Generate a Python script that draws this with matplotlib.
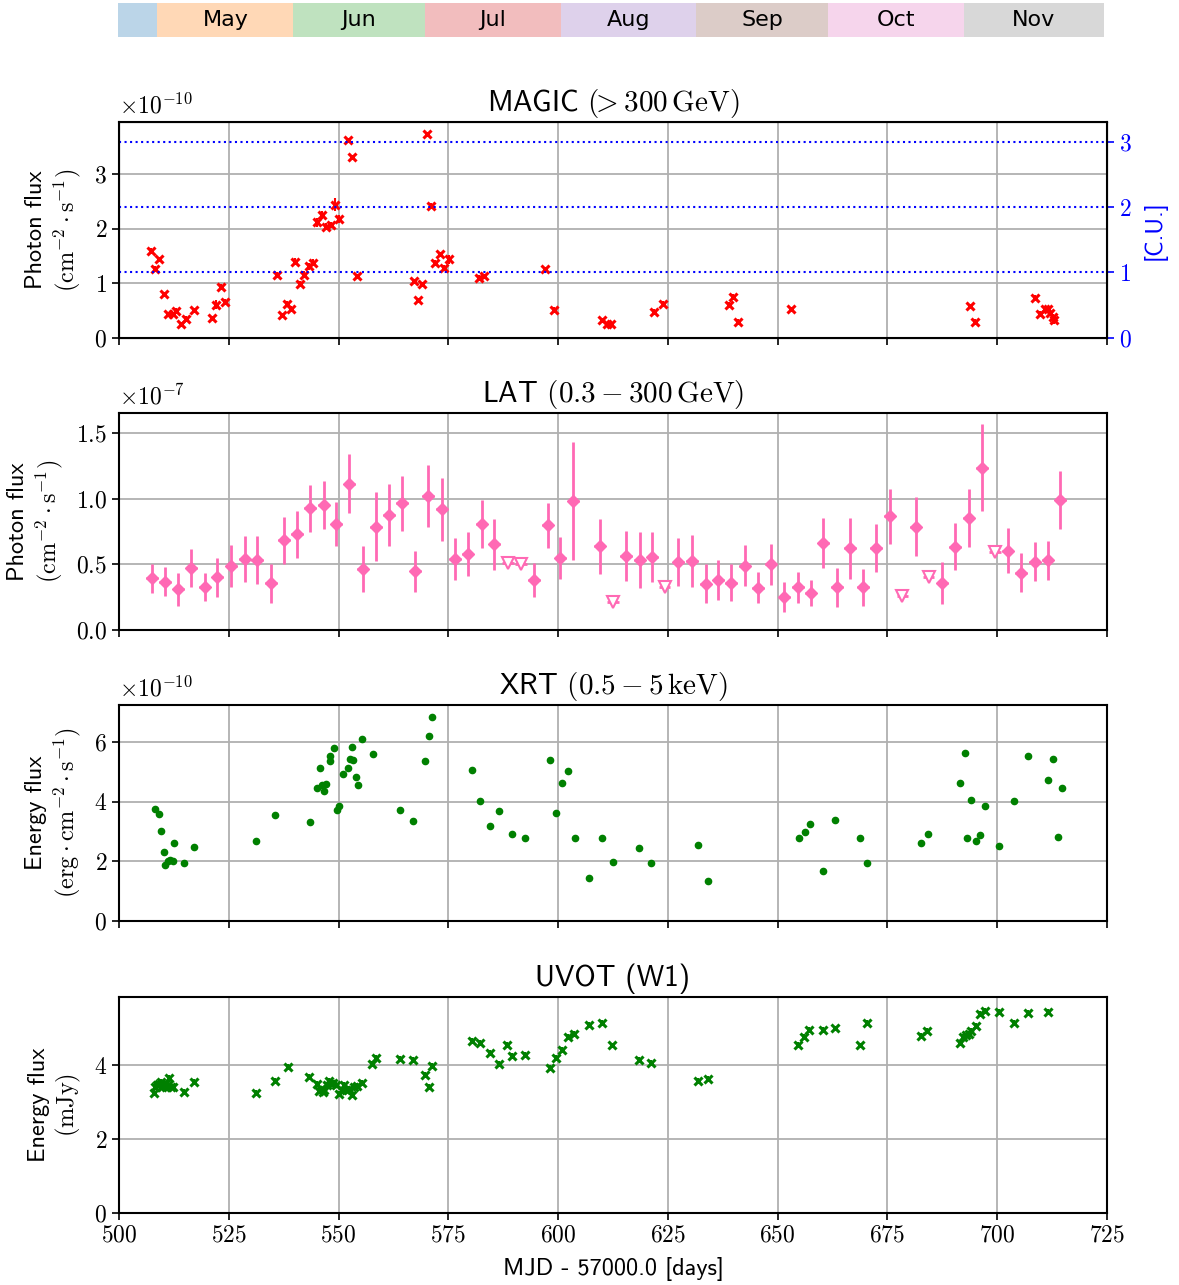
#!/usr/bin/env python3
# -*- coding: utf-8 -*-
"""
Multi-wavelength light curve: MAGIC, LAT, XRT, UVOT
"""

import numpy as np
import matplotlib
matplotlib.use('Agg')
import matplotlib.pyplot as plt
from matplotlib.ticker import FuncFormatter, MultipleLocator

plt.rcParams['font.family'] = ['cmss10', 'DejaVu Sans']
plt.rcParams['mathtext.fontset'] = 'cm'
plt.rcParams['axes.unicode_minus'] = False

# month bar
month_names = ['', 'May', 'Jun', 'Jul', 'Aug', 'Sep', 'Oct', 'Nov']
month_start = [500, 509, 540, 570, 601, 632, 662, 693]
month_end = [509, 540, 570, 601, 632, 662, 693, 725]
month_colors = ['tab:blue', 'tab:orange', 'tab:green', 'tab:red',
                'tab:purple', 'tab:brown', 'tab:pink', 'tab:gray']

# MAGIC (> 300 GeV), units of 1e-10 cm-2 s-1
magic_mjd = [507.2, 508.2, 509.2, 510.2, 511.2, 512.2, 513.1, 514.2, 515.2, 517.2,
             521.2, 522.2, 523.2, 524.2, 536.1, 537.2, 538.2, 539.2, 540.2, 541.2,
             542.2, 543.2, 544.2, 545.1, 546.2, 547.2, 548.2, 549.2, 550.1, 552.2,
             553.1, 554.1, 567.1, 568.1, 569.1, 570.1, 571.1, 572.0, 573.0, 574.0,
             575.1, 582.1, 583.1, 597.1, 599.1, 610.1, 611.1, 612.1, 621.9, 623.9,
             638.9, 639.9, 641.0, 653.0, 693.9, 694.9, 708.7, 709.7, 710.8, 711.5,
             712.1, 712.7, 712.9]
magic_flux = [1.59, 1.26, 1.44, 0.81, 0.44, 0.43, 0.50, 0.25, 0.35, 0.51,
              0.37, 0.61, 0.93, 0.66, 1.15, 0.42, 0.62, 0.53, 1.40, 0.99,
              1.16, 1.31, 1.38, 2.12, 2.25, 2.04, 2.07, 2.44, 2.18, 3.63,
              3.31, 1.14, 1.04, 0.69, 0.98, 3.73, 2.42, 1.37, 1.53, 1.29,
              1.44, 1.10, 1.13, 1.26, 0.52, 0.33, 0.25, 0.25, 0.48, 0.63,
              0.61, 0.75, 0.29, 0.53, 0.58, 0.30, 0.73, 0.44, 0.53, 0.53,
              0.45, 0.39, 0.32]
magic_err = [0.05, 0.05, 0.05, 0.04, 0.04, 0.04, 0.05, 0.05, 0.05, 0.04,
             0.04, 0.08, 0.05, 0.05, 0.05, 0.04, 0.05, 0.06, 0.06, 0.05,
             0.06, 0.06, 0.06, 0.08, 0.07, 0.06, 0.06, 0.12, 0.07, 0.04,
             0.05, 0.04, 0.04, 0.04, 0.04, 0.03, 0.05, 0.05, 0.05, 0.05,
             0.08, 0.05, 0.05, 0.04, 0.05, 0.04, 0.04, 0.04, 0.05, 0.04,
             0.05, 0.06, 0.05, 0.03, 0.03, 0.04, 0.05, 0.05, 0.04, 0.05,
             0.05, 0.05, 0.07]
CRAB_UNIT = 1.2  # 1 C.U. in units of 1e-10

# LAT (0.3 - 300 GeV), units of 1e-7 cm-2 s-1
lat_mjd = [507.5, 510.5, 513.5, 516.5, 519.5, 522.4, 525.6, 528.6, 531.4, 534.6,
           537.6, 540.5, 543.5, 546.6, 549.5, 552.5, 555.5, 558.5, 561.5, 564.5,
           567.5, 570.4, 573.5, 576.5, 579.4, 582.6, 585.5, 594.5, 597.6, 600.5,
           603.5, 609.5, 615.5, 618.6, 621.5, 627.4, 630.5, 633.6, 636.5, 639.4,
           642.5, 645.5, 648.4, 651.5, 654.6, 657.5, 660.4, 663.5, 666.5, 669.4,
           672.4, 675.5, 681.4, 687.5, 690.4, 693.5, 696.5, 702.4, 705.4, 708.5,
           711.5, 714.4]
lat_flux = [0.394, 0.369, 0.310, 0.476, 0.328, 0.402, 0.491, 0.545, 0.534, 0.356,
            0.684, 0.730, 0.929, 0.954, 0.807, 1.117, 0.468, 0.789, 0.878, 0.967,
            0.448, 1.020, 0.921, 0.545, 0.580, 0.809, 0.654, 0.382, 0.799, 0.552,
            0.985, 0.639, 0.565, 0.534, 0.557, 0.519, 0.527, 0.354, 0.382, 0.361,
            0.491, 0.323, 0.501, 0.249, 0.326, 0.282, 0.664, 0.326, 0.623, 0.326,
            0.626, 0.868, 0.789, 0.359, 0.634, 0.852, 1.239, 0.606, 0.438, 0.522,
            0.532, 0.992]
lat_err = [0.11, 0.11, 0.125, 0.145, 0.11, 0.15, 0.16, 0.175, 0.18, 0.15,
           0.18, 0.18, 0.18, 0.185, 0.17, 0.225, 0.175, 0.26, 0.235, 0.21,
           0.155, 0.235, 0.24, 0.16, 0.165, 0.185, 0.195, 0.13, 0.17, 0.16,
           0.45, 0.21, 0.19, 0.21, 0.19, 0.18, 0.2, 0.15, 0.15, 0.14,
           0.155, 0.12, 0.155, 0.115, 0.12, 0.10, 0.19, 0.15, 0.235, 0.14,
           0.18, 0.21, 0.225, 0.16, 0.18, 0.22, 0.33, 0.17, 0.15, 0.15,
           0.15, 0.22]
lat_ul_mjd = [588.6, 591.6, 612.5, 624.3, 678.4, 684.4, 699.5]
lat_ul_flux = [0.514, 0.506, 0.213, 0.331, 0.257, 0.405, 0.595]
LAT_HALF_BIN = 1.3

# XRT (0.5 - 5 keV), units of 1e-10 erg cm-2 s-1
xrt_mjd = [508.3, 509.2, 509.5, 510.2, 510.4, 511.2, 511.7, 512.2, 512.5, 514.8,
           517.2, 531.1, 535.6, 543.4, 545.0, 545.7, 546.2, 546.6, 547.2, 548.0,
           548.1, 548.9, 549.7, 550.2, 551.0, 552.1, 552.7, 553.3, 553.1, 553.9,
           554.4, 555.4, 557.8, 564.1, 567.0, 569.7, 570.7, 571.3, 580.4, 582.3,
           584.4, 586.6, 589.6, 592.5, 598.2, 599.6, 601.0, 602.2, 603.8, 607.1,
           610.1, 612.4, 618.5, 621.2, 631.8, 634.1, 654.8, 656.2, 657.3, 660.3,
           663.0, 668.7, 670.4, 682.7, 684.2, 691.6, 692.6, 693.1, 694.1, 695.2,
           696.2, 697.2, 700.3, 703.9, 707.0, 711.6, 712.8, 713.8, 714.8]
xrt_flux = [3.77, 3.58, 3.02, 2.32, 1.87, 2.00, 2.03, 2.00, 2.61, 1.94,
            2.49, 2.69, 3.57, 3.31, 4.45, 5.13, 4.58, 4.37, 4.61, 5.36,
            5.54, 5.79, 3.74, 3.86, 4.94, 5.15, 5.44, 5.41, 5.85, 4.82,
            4.58, 6.11, 5.60, 3.71, 3.34, 5.36, 6.21, 6.85, 5.06, 4.03,
            3.18, 3.70, 2.91, 2.79, 5.41, 3.61, 4.64, 5.02, 2.79, 1.43,
            2.79, 1.97, 2.44, 1.94, 2.55, 1.34, 2.80, 2.99, 3.24, 1.67,
            3.40, 2.80, 1.95, 2.62, 2.92, 4.64, 5.63, 2.80, 4.06, 2.69,
            2.89, 3.86, 2.51, 4.04, 5.53, 4.73, 5.45, 2.83, 4.46]

# UVOT (W1), mJy
uvot_mjd = [508.0, 508.3, 508.6, 509.1, 509.5, 509.9, 510.4, 510.8, 511.1, 511.4,
            511.8, 512.3, 514.8, 517.2, 531.2, 535.6, 538.6, 543.3, 545.0, 545.5,
            546.0, 546.4, 546.8, 547.4, 547.9, 548.3, 548.8, 549.4, 550.1, 550.7,
            551.3, 551.8, 552.5, 553.1, 553.6, 554.2, 555.3, 557.7, 558.6, 564.1,
            567.0, 569.7, 570.7, 571.3, 580.4, 582.3, 584.4, 586.6, 588.4, 589.5,
            592.5, 598.2, 599.6, 601.0, 602.2, 603.7, 607.0, 610.0, 612.3, 618.5,
            621.2, 631.8, 634.1, 654.7, 656.1, 657.2, 660.3, 663.0, 668.7, 670.4,
            682.7, 684.1, 691.5, 692.3, 692.8, 693.5, 694.1, 695.2, 696.2, 697.2,
            700.3, 703.9, 707.0, 711.6]
uvot_flux = [3.25, 3.41, 3.45, 3.48, 3.55, 3.42, 3.48, 3.41, 3.47, 3.64,
             3.41, 3.42, 3.28, 3.54, 3.25, 3.57, 3.96, 3.68, 3.50, 3.30,
             3.36, 3.27, 3.33, 3.45, 3.57, 3.50, 3.51, 3.45, 3.23, 3.34,
             3.45, 3.32, 3.36, 3.18, 3.42, 3.44, 3.52, 4.04, 4.18, 4.17,
             4.14, 3.72, 3.42, 3.97, 4.65, 4.59, 4.32, 4.04, 4.55, 4.24,
             4.27, 3.92, 4.19, 4.41, 4.75, 4.85, 5.08, 5.14, 4.53, 4.13,
             4.06, 3.56, 3.63, 4.55, 4.75, 4.94, 4.95, 4.99, 4.53, 5.13,
             4.78, 4.93, 4.59, 4.76, 4.80, 4.85, 4.91, 5.05, 5.39, 5.47,
             5.43, 5.14, 5.41, 5.43]
UVOT_ERR = 0.08

PINK = '#ff69b4'
TICK_FS = 17
LABEL_FS = 17.5
TITLE_FS = 21


def math_fmt(fmt):
    return FuncFormatter(lambda v, pos: '$' + (fmt % v) + '$')


def style_axis(ax, title, ylabel, ystep, yfmt, ymax, multiplier=None):
    ax.set_xlim(500, 725)
    ax.set_ylim(0, ymax)
    ax.yaxis.set_major_locator(MultipleLocator(ystep))
    ax.yaxis.set_major_formatter(math_fmt(yfmt))
    ax.xaxis.set_major_locator(MultipleLocator(25))
    ax.xaxis.set_major_formatter(math_fmt('%d'))
    ax.grid(True, color='#b0b0b0', lw=1.3)
    ax.set_axisbelow(True)
    ax.tick_params(labelsize=TICK_FS, length=5, width=1.2)
    for sp in ax.spines.values():
        sp.set_linewidth(1.5)
    ax.set_title(title, fontsize=TITLE_FS, pad=8)
    ax.set_ylabel(ylabel, fontsize=LABEL_FS, labelpad=8)
    if multiplier is not None:
        ax.text(0.0, 1.015, multiplier, transform=ax.transAxes,
                fontsize=TICK_FS, ha='left', va='bottom')


def main():
    fig = plt.figure(figsize=(11.79, 12.85), dpi=100)

    # month bar
    ax_m = fig.add_axes([0.1001, 0.9712, 0.8363, 0.0265])
    for name, s, e, c in zip(month_names, month_start, month_end, month_colors):
        ax_m.barh(0, e - s, left=s, height=1, color=c, alpha=0.3, lw=0)
        if name:
            ax_m.text((s + e) / 2, 0, name, ha='center', va='center', fontsize=16,
                      family=['Liberation Sans Narrow', 'DejaVu Sans'])
    ax_m.set_xlim(500, 725)
    ax_m.set_ylim(-0.5, 0.5)
    ax_m.axis('off')

    left, width = 0.1009, 0.838
    ax1 = fig.add_axes([left, 0.7370, width, 0.1681])
    ax2 = fig.add_axes([left, 0.5097, width, 0.1689], sharex=ax1)
    ax3 = fig.add_axes([left, 0.2833, width, 0.1681], sharex=ax1)
    ax4 = fig.add_axes([left, 0.0560, width, 0.1681], sharex=ax1)

    # MAGIC
    ax1.errorbar(magic_mjd, magic_flux, yerr=magic_err, fmt='x', color='red',
                 ms=5.5, mew=2.2, elinewidth=1.5, capsize=0, zorder=3)
    style_axis(ax1, r'MAGIC $(\!\!>300\,\mathrm{GeV})$',
               'Photon flux\n' + r'$(\mathrm{cm}^{-2}\cdot\mathrm{s}^{-1})$',
               1, '%d', 3.96, r'$\times10^{-10}$')
    ax1r = ax1.twinx()
    ymax1 = ax1.get_ylim()[1]
    ax1r.set_ylim(0, ymax1 / CRAB_UNIT)
    ax1r.yaxis.set_major_locator(MultipleLocator(1))
    ax1r.yaxis.set_major_formatter(math_fmt('%d'))
    for cu in [1, 2, 3]:
        ax1r.axhline(cu, color='blue', ls=':', lw=1.5)
    ax1r.tick_params(labelsize=TICK_FS, length=5, width=1.2, colors='blue')
    ax1r.set_ylabel('[C.U.]', color='blue', fontsize=LABEL_FS, labelpad=8)

    # LAT
    ax2.errorbar(lat_mjd, lat_flux, yerr=lat_err, xerr=LAT_HALF_BIN, fmt='D',
                 color=PINK, ms=6, elinewidth=2, capsize=0, zorder=3)
    ax2.errorbar(lat_ul_mjd, lat_ul_flux, xerr=LAT_HALF_BIN, fmt='v', color=PINK,
                 mfc='white', mec=PINK, ms=8, mew=1.5, elinewidth=2, capsize=0, zorder=3)
    style_axis(ax2, r'LAT $(0.3-300\,\mathrm{GeV})$',
               'Photon flux\n' + r'$(\mathrm{cm}^{-2}\cdot\mathrm{s}^{-1})$',
               0.5, '%.1f', 1.655, r'$\times10^{-7}$')

    # XRT
    ax3.plot(xrt_mjd, xrt_flux, 'o', color='green', ms=4.5, zorder=3)
    style_axis(ax3, r'XRT $(0.5-5\,\mathrm{keV})$',
               'Energy flux\n' + r'$(\mathrm{erg}\cdot\mathrm{cm}^{-2}\cdot\mathrm{s}^{-1})$',
               2, '%d', 7.25, r'$\times10^{-10}$')

    # UVOT
    ax4.errorbar(uvot_mjd, uvot_flux, yerr=UVOT_ERR, fmt='x', color='green',
                 ms=5.5, mew=2.2, elinewidth=1.5, capsize=0, zorder=3)
    style_axis(ax4, 'UVOT (W1)', 'Energy flux\n' + r'$(\mathrm{mJy})$',
               2, '%d', 5.84)
    ax4.set_xlabel('MJD - 57000.0 [days]', fontsize=17.5, labelpad=7)

    for ax in [ax1, ax2, ax3]:
        ax.tick_params(labelbottom=False)

    fig.savefig('out.png', dpi=100)


if __name__ == "__main__":
    main()
